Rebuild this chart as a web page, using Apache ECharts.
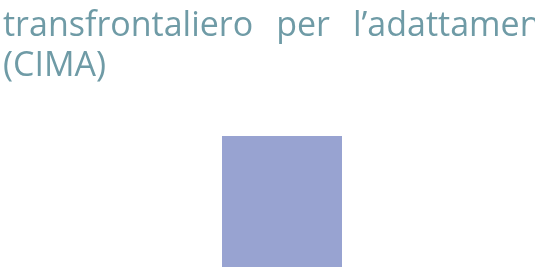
<!DOCTYPE html>
<html>
<head>
<meta charset="utf-8">
<script src="https://cdn.jsdelivr.net/npm/echarts@6/dist/echarts.min.js"></script>
<style>
  html, body { margin: 0; padding: 0; background: #fff; }
  #chart { width: 535px; height: 267px; }
</style>
</head>
<body>
<div id="chart"></div>
<script>
  // title words (the first line is justified and runs past the right edge)
  const titleWords = ['transfrontaliero', 'per', 'l\u2019adattamento'];
  const titleLine2 = '(CIMA)';
  const categories = ['CIMA'];
  const values = [100];

  const baseFont = {
    fontFamily: 'Open Sans',
    fontWeight: 'normal',
    fontSize: 34,
    lineHeight: 40,
    color: '#6f9ba6'
  };

  const line1 = titleWords.map(w => '{a|' + w + '}').join('{g| }');

  const chart = echarts.init(document.getElementById('chart'));
  chart.setOption({
    animation: false,
    title: {
      text: line1 + '\n{a|' + titleLine2 + '}',
      left: 0,
      top: 6,
      padding: [0, 0, 0, 3],
      textStyle: {
        ...baseFont,
        rich: {
          a: {...baseFont},
          g: {...baseFont, width: 23}
        }
      }
    },
    grid: {left: 222, width: 120, top: 136, bottom: -40},
    xAxis: {type: 'category', data: categories, show: false},
    yAxis: {type: 'value', min: 0, max: 100, show: false},
    series: [{
      type: 'bar',
      data: values,
      barWidth: '100%',
      itemStyle: {color: '#98a3d1'}
    }]
  });
</script>
</body>
</html>
